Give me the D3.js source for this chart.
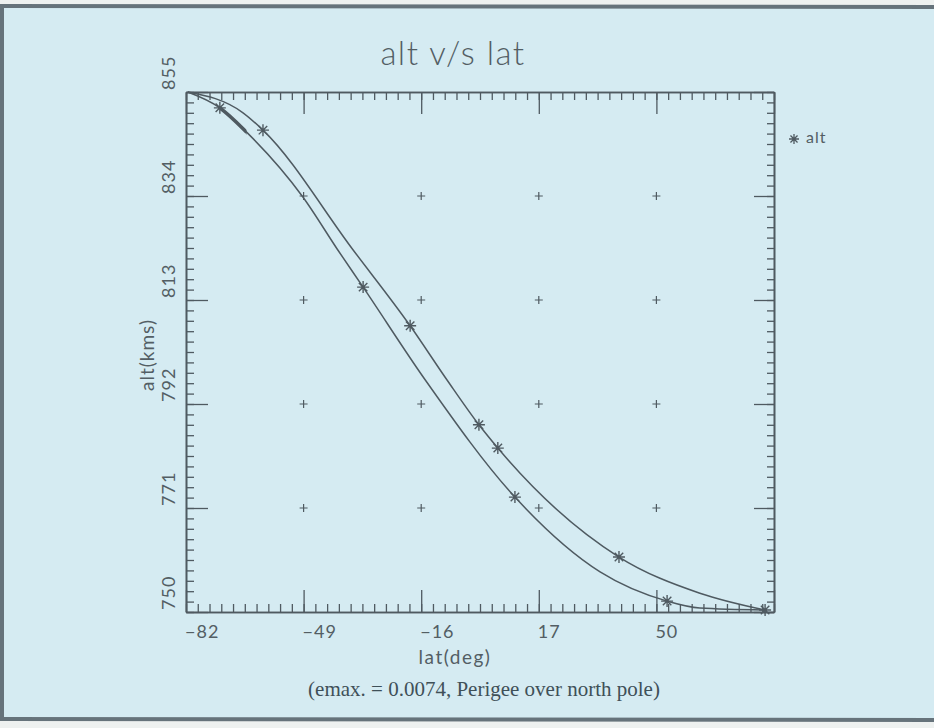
<!DOCTYPE html>
<meta charset="utf-8">
<script src="https://d3js.org/d3.v7.min.js"></script>
<style>
  body { margin: 0; background: #eef1f0; }
  text { fill: #535e64; }
</style>
<div id="chart"></div>
<script>
// axis ticks
const latTicks = [-82, -49, -16, 17, 50, 83];
const altTicks = [750, 771, 792, 813, 834, 855];
// "+" marks at the major tick crossings
const gridLat = [-49, -16, 17, 50];
const gridAlt = [771, 792, 813, 834];

// left (lower) curve
const lowerLat = [-81.5, -72.5, -65, -49.2, -39.4, -32.3, -14.9, 10.3, 34.2, 53.0, 62.2, 80.5];
const lowerAlt = [855, 851.8, 846.9, 833.8, 823.1, 815.6, 796.9, 773.2, 758.1, 752.2, 750.8, 750.4];
// right (upper) curve
const upperLat = [-81.5, -66, -60.4, -35.1, -19.1, -8.8, 0.2, 5.5, 39.5, 62.2, 80.5];
const upperAlt = [855, 850.8, 847.3, 823.1, 807.8, 796.9, 787.8, 783.1, 761.1, 753.8, 750.4];

// asterisk points
const starLat = [-72.5, -60.4, -32.3, -19.1, 0.2, 5.5, 10.3, 39.5, 53.0, 80.5];
const starAlt = [851.8, 847.3, 815.6, 807.8, 787.8, 783.1, 773.2, 761.1, 752.2, 750.4];

const W = 934, H = 728;
const ink = "#4f5a61";

const svg = d3.select("#chart").append("svg")
    .attr("width", W).attr("height", H);

// paper + scanned frame
svg.append("rect").attr("x", 0).attr("y", 0).attr("width", W).attr("height", H).attr("fill", "#eef1f0");
svg.append("rect").attr("x", 0).attr("y", 5).attr("width", W).attr("height", 716).attr("fill", "#d5ebf2");
svg.append("line").attr("x1", 0).attr("x2", W).attr("y1", 6).attr("y2", 7)
    .attr("stroke", "#66737b").attr("stroke-width", 4);
svg.append("line").attr("x1", 2).attr("x2", 2).attr("y1", 5).attr("y2", 721)
    .attr("stroke", "#66737b").attr("stroke-width", 4);
svg.append("line").attr("x1", 0).attr("x2", W).attr("y1", 719).attr("y2", 720)
    .attr("stroke", "#66737b").attr("stroke-width", 4);

const x = d3.scaleLinear().domain([-82, 83]).range([186, 774]);
const y = d3.scaleLinear().domain([750, 855]).range([612, 92]);

const minorLat = d3.range(-82, 83.01, 3.3);
const minorAlt = d3.range(750, 855.01, 2.1);

function styleAxis(g) {
    g.selectAll("path").attr("stroke", ink).attr("stroke-width", 1.6);
    g.selectAll("line").attr("stroke", ink).attr("stroke-width", 1.3);
    g.selectAll("text").remove();
}

// minor ticks
svg.append("g").attr("transform", "translate(0,612)")
    .call(d3.axisBottom(x).tickValues(minorLat).tickSize(-8).tickSizeOuter(0)).call(styleAxis);
svg.append("g").attr("transform", "translate(0,92)")
    .call(d3.axisTop(x).tickValues(minorLat).tickSize(-8).tickSizeOuter(0)).call(styleAxis);
svg.append("g").attr("transform", "translate(186,0)")
    .call(d3.axisLeft(y).tickValues(minorAlt).tickSize(-8).tickSizeOuter(0)).call(styleAxis);
svg.append("g").attr("transform", "translate(774,0)")
    .call(d3.axisRight(y).tickValues(minorAlt).tickSize(-7).tickSizeOuter(0)).call(styleAxis);

// major ticks
svg.append("g").attr("transform", "translate(0,612)")
    .call(d3.axisBottom(x).tickValues(latTicks).tickSize(-22).tickSizeOuter(0)).call(styleAxis);
svg.append("g").attr("transform", "translate(0,92)")
    .call(d3.axisTop(x).tickValues(latTicks).tickSize(-22).tickSizeOuter(0)).call(styleAxis);
svg.append("g").attr("transform", "translate(186,0)")
    .call(d3.axisLeft(y).tickValues(altTicks).tickSize(-22).tickSizeOuter(0)).call(styleAxis);
svg.append("g").attr("transform", "translate(774,0)")
    .call(d3.axisRight(y).tickValues(altTicks).tickSize(-20).tickSizeOuter(0)).call(styleAxis);

// tick labels: start at the tick, as in the original
svg.append("g").selectAll("text")
    .data(latTicks.slice(0, 5))
    .enter().append("text")
    .attr("x", d => x(d) - 1)
    .attr("y", 638)
    .style("font", "18px Lato, sans-serif").style("letter-spacing", "1px")
    .text(d => d < 0 ? "\u2212" + Math.abs(d) : d);

svg.append("g").selectAll("text")
    .data(altTicks)
    .enter().append("text")
    .attr("transform", d => "translate(175," + (y(d) - 2) + ") rotate(-90)")
    .style("font", "18px Lato, sans-serif").style("letter-spacing", "1px")
    .text(d => d);

// grid "+" marks
const crosses = [];
gridLat.forEach(a => gridAlt.forEach(b => crosses.push([a, b])));
svg.append("g").selectAll("path")
    .data(crosses)
    .enter().append("path")
    .attr("d", d => {
        const cx = x(d[0]), cy = y(d[1]);
        return "M" + (cx - 4) + "," + cy + "H" + (cx + 4) + "M" + cx + "," + (cy - 4) + "V" + (cy + 4);
    })
    .attr("stroke", ink).attr("stroke-width", 1.2);

// curves
const line = d3.line().x(d => x(d[0])).y(d => y(d[1])).curve(d3.curveMonotoneX);
const lower = lowerLat.map((d, i) => [d, lowerAlt[i]]);
const upper = upperLat.map((d, i) => [d, upperAlt[i]]);

svg.append("path").datum(lower).attr("d", line)
    .attr("fill", "none").attr("stroke", ink).attr("stroke-width", 1.5);
svg.append("path").datum(upper).attr("d", line)
    .attr("fill", "none").attr("stroke", ink).attr("stroke-width", 1.5);

// heavy stretch near the start of the lower curve
svg.append("clipPath").attr("id", "heavy")
    .append("rect").attr("x", x(-72.5)).attr("y", 0)
    .attr("width", x(-65) - x(-72.5)).attr("height", H);
svg.append("path").datum(lower).attr("d", line)
    .attr("clip-path", "url(#heavy)")
    .attr("fill", "none").attr("stroke", ink).attr("stroke-width", 3.5);

// asterisks
function star(cx, cy, r) {
    let p = "";
    for (let k = 0; k < 4; k++) {
        const a = k * Math.PI / 4;
        p += "M" + (cx - r * Math.cos(a)) + "," + (cy - r * Math.sin(a)) +
             "L" + (cx + r * Math.cos(a)) + "," + (cy + r * Math.sin(a));
    }
    return p;
}
svg.append("g").selectAll("path")
    .data(starLat.map((d, i) => [d, starAlt[i]]))
    .enter().append("path")
    .attr("d", d => star(x(d[0]), y(d[1]), 6))
    .attr("stroke", ink).attr("stroke-width", 1.4);

// legend
svg.append("path").attr("d", star(794, 139, 5)).attr("stroke", ink).attr("stroke-width", 1.3);
svg.append("text").attr("x", 806).attr("y", 143)
    .style("font", "16px Lato, sans-serif").style("letter-spacing", "1px").text("alt");

// titles
svg.append("text").attr("x", 453).attr("y", 65).attr("text-anchor", "middle")
    .style("font", "300 33px Lato, sans-serif").style("letter-spacing", "1.5px")
    .text("alt v/s lat");
svg.append("text").attr("transform", "translate(154,355) rotate(-90)")
    .attr("text-anchor", "middle")
    .style("font", "19px Lato, sans-serif").style("letter-spacing", "1px").text("alt(kms)");
svg.append("text").attr("x", 455).attr("y", 664).attr("text-anchor", "middle")
    .style("font", "19px Lato, sans-serif").style("letter-spacing", "1.5px").text("lat(deg)");
svg.append("text").attr("x", 484).attr("y", 696).attr("text-anchor", "middle")
    .style("font", "21px 'Liberation Serif', serif").style("fill", "#3f5058")
    .text("(emax. = 0.0074, Perigee over north pole)");
</script>
